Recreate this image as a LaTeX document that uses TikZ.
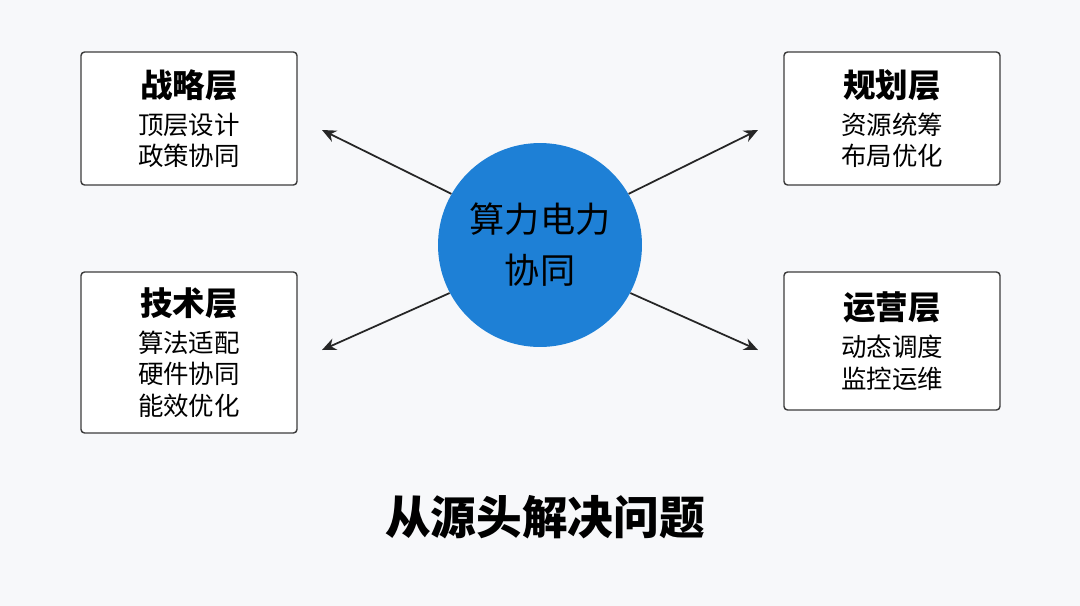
\documentclass[tikz,border=0pt]{standalone}
\usepackage{fontspec}
\newfontfamily\cjk{Noto Sans CJK SC}
\usepackage{xcolor}
\usetikzlibrary{arrows.meta}
\definecolor{bgGray}{RGB}{247, 248, 250}
\definecolor{coreBlue}{RGB}{30, 128, 214}
\definecolor{boxLine}{RGB}{60, 60, 60}

\tikzset{
  layer/.style={draw=boxLine, fill=white, rounded corners=2pt, line width=0.8pt,
    minimum width=4.32cm, align=center, font=\cjk\fontsize{14.5}{18}\selectfont},
  link/.style={-{Stealth[length=8pt,width=7pt]}, line width=1pt, black!85}
}

\begin{document}
\begin{tikzpicture}[x=0.02cm,y=-0.02cm]
        % Background and bounds
        \fill[bgGray] (0,0) rectangle (1080,606);
        \useasboundingbox (0,0) rectangle (1080,606);

        % Central circle
        \node[circle, fill=coreBlue, minimum size=4.08cm, align=center, text=black,
          font=\cjk\fontsize{20}{29}\selectfont] (core) at (540,245) {算力电力\\协同};

        % Four layers
        \node[layer, minimum height=2.66cm] (strat) at (189,118.5)
          {{\fontsize{18.5}{22}\selectfont\bfseries 战略层}\\[3pt]顶层设计\\政策协同};
        \node[layer, minimum height=2.66cm] (plan) at (892,118.5)
          {{\fontsize{18.5}{22}\selectfont\bfseries 规划层}\\[3pt]资源统筹\\布局优化};
        \node[layer, minimum height=3.22cm] (tech) at (189,352.5)
          {{\fontsize{18.5}{22}\selectfont\bfseries 技术层}\\[3pt]算法适配\\硬件协同\\能效优化};
        \node[layer, minimum height=2.76cm] (ops) at (892,341)
          {{\fontsize{18.5}{22}\selectfont\bfseries 运营层}\\[3pt]动态调度\\监控运维};

        % Arrows out of the core
        \coordinate (tipA) at (322,130);
        \coordinate (tipB) at (758,130);
        \coordinate (tipC) at (322,350);
        \coordinate (tipD) at (758,350);
        \draw[link] (core.150) -- (tipA);
        \draw[link] (core.30) -- (tipB);
        \draw[link] (core.208) -- (tipC);
        \draw[link] (core.332) -- (tipD);

        % Bottom caption
        \node[font=\cjk\fontsize{26}{30}\selectfont\bfseries] (caption) at (545,517) {从源头解决问题};
\end{tikzpicture}
\end{document}
